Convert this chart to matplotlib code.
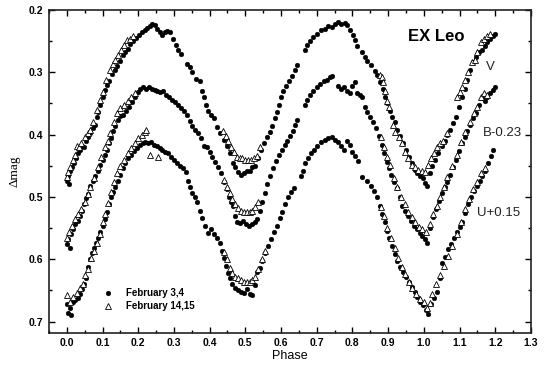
import numpy as np
import matplotlib
matplotlib.use("Agg")
import matplotlib.pyplot as plt
from matplotlib.ticker import MultipleLocator

plt.rcParams["font.family"] = ["Liberation Sans", "DejaVu Sans"]

# (phase, delta mag); B and U already shifted
v_feb3 = [
    (0.000, 0.474), (0.003, 0.466), (0.006, 0.480), (0.010, 0.458), (0.014, 0.452), (0.020, 0.446),
    (0.026, 0.437), (0.030, 0.430), (0.036, 0.424), (0.042, 0.418), (0.048, 0.420), (0.054, 0.410),
    (0.060, 0.404), (0.066, 0.398), (0.072, 0.390), (0.078, 0.384), (0.084, 0.372), (0.088, 0.364),
    (0.094, 0.352), (0.100, 0.340), (0.106, 0.328), (0.112, 0.320), (0.118, 0.314), (0.126, 0.303),
    (0.134, 0.296), (0.140, 0.290), (0.148, 0.282), (0.156, 0.273), (0.162, 0.268), (0.170, 0.262),
    (0.178, 0.255), (0.186, 0.250), (0.194, 0.245), (0.202, 0.240), (0.210, 0.236), (0.218, 0.232),
    (0.226, 0.229), (0.234, 0.225), (0.240, 0.222), (0.246, 0.224), (0.254, 0.230), (0.262, 0.236),
    (0.268, 0.240), (0.276, 0.236), (0.282, 0.233), (0.290, 0.236), (0.298, 0.247), (0.306, 0.256),
    (0.312, 0.264), (0.320, 0.270), (0.336, 0.286), (0.344, 0.292), (0.352, 0.300), (0.362, 0.310),
    (0.372, 0.314), (0.378, 0.330), (0.384, 0.340), (0.390, 0.352), (0.396, 0.362), (0.404, 0.368),
    (0.412, 0.374), (0.422, 0.388), (0.430, 0.398), (0.440, 0.408), (0.450, 0.418), (0.458, 0.430),
    (0.466, 0.446), (0.472, 0.452), (0.480, 0.460), (0.488, 0.464), (0.496, 0.462), (0.504, 0.458),
    (0.512, 0.458), (0.520, 0.452), (0.528, 0.450), (0.536, 0.438), (0.544, 0.424), (0.552, 0.414),
    (0.560, 0.404), (0.568, 0.396), (0.576, 0.386), (0.582, 0.374), (0.588, 0.364), (0.594, 0.352),
    (0.600, 0.340), (0.606, 0.330), (0.614, 0.322), (0.622, 0.314), (0.630, 0.306), (0.638, 0.296),
    (0.646, 0.288), (0.668, 0.264), (0.672, 0.256), (0.680, 0.250), (0.690, 0.244), (0.700, 0.238),
    (0.712, 0.232), (0.722, 0.230), (0.732, 0.226), (0.742, 0.228), (0.752, 0.222), (0.760, 0.220),
    (0.768, 0.222), (0.778, 0.221), (0.786, 0.224), (0.794, 0.232), (0.802, 0.240), (0.808, 0.248),
    (0.814, 0.258), (0.826, 0.268), (0.834, 0.276), (0.842, 0.282), (0.852, 0.288), (0.862, 0.298),
    (0.870, 0.304), (0.878, 0.316), (0.886, 0.326), (0.892, 0.340), (0.898, 0.350), (0.904, 0.362),
    (0.910, 0.372), (0.918, 0.380), (0.926, 0.392), (0.934, 0.402), (0.942, 0.414), (0.950, 0.424),
    (0.958, 0.436), (0.966, 0.446), (0.974, 0.456), (0.982, 0.462), (0.990, 0.466), (0.998, 0.470),
    (1.004, 0.478), (1.010, 0.482), (1.016, 0.462), (1.024, 0.450), (1.032, 0.440), (1.040, 0.430),
    (1.050, 0.418), (1.058, 0.410), (1.066, 0.400), (1.074, 0.392), (1.082, 0.382), (1.090, 0.372),
    (1.098, 0.356), (1.106, 0.340), (1.114, 0.326), (1.122, 0.312), (1.130, 0.296), (1.138, 0.284),
    (1.146, 0.276), (1.154, 0.268), (1.162, 0.264), (1.170, 0.258), (1.178, 0.252), (1.186, 0.246),
    (1.194, 0.242), (1.200, 0.238),
]
v_feb14 = [
    (0.000, 0.468), (0.004, 0.460), (0.010, 0.452), (0.016, 0.440), (0.022, 0.432), (0.028, 0.418),
    (0.034, 0.420), (0.040, 0.414), (0.050, 0.404), (0.058, 0.398), (0.064, 0.392), (0.074, 0.380),
    (0.084, 0.360), (0.092, 0.344), (0.100, 0.332), (0.110, 0.312), (0.120, 0.296), (0.128, 0.286),
    (0.136, 0.280), (0.144, 0.272), (0.152, 0.264), (0.160, 0.256), (0.168, 0.248), (0.176, 0.246),
    (0.184, 0.242),
    (0.438, 0.394), (0.446, 0.402), (0.452, 0.410), (0.460, 0.420), (0.468, 0.428), (0.476, 0.436),
    (0.484, 0.438), (0.492, 0.438), (0.500, 0.440), (0.508, 0.440), (0.516, 0.440), (0.524, 0.438),
    (0.532, 0.434), (0.542, 0.420),
    (0.876, 0.304), (0.882, 0.308), (0.886, 0.316), (0.892, 0.330), (0.898, 0.346), (0.902, 0.356),
    (0.914, 0.384), (0.920, 0.396), (0.930, 0.404), (0.940, 0.414), (0.948, 0.428), (0.956, 0.438),
    (0.966, 0.448), (0.976, 0.452), (0.984, 0.456), (0.994, 0.458), (1.002, 0.460), (1.012, 0.448),
    (1.020, 0.438), (1.028, 0.430), (1.036, 0.420), (1.046, 0.414), (1.054, 0.410), (1.064, 0.398),
    (1.092, 0.340), (1.100, 0.332), (1.108, 0.324), (1.116, 0.312), (1.124, 0.300), (1.134, 0.284),
    (1.142, 0.280), (1.150, 0.268), (1.160, 0.252), (1.168, 0.246), (1.176, 0.242), (1.186, 0.238),
]

b_feb3 = [
    (0.000, 0.576), (0.004, 0.568), (0.008, 0.582), (0.012, 0.560), (0.018, 0.552), (0.024, 0.544),
    (0.030, 0.538), (0.036, 0.530), (0.042, 0.522), (0.048, 0.512), (0.054, 0.502), (0.060, 0.496),
    (0.066, 0.482), (0.072, 0.474), (0.080, 0.466), (0.088, 0.458), (0.094, 0.448), (0.100, 0.440),
    (0.106, 0.432), (0.112, 0.424), (0.118, 0.414), (0.124, 0.406), (0.130, 0.394), (0.136, 0.386),
    (0.142, 0.376), (0.150, 0.370), (0.158, 0.368), (0.166, 0.362), (0.174, 0.356), (0.182, 0.348),
    (0.190, 0.340), (0.198, 0.332), (0.206, 0.326), (0.214, 0.324), (0.222, 0.326), (0.230, 0.324),
    (0.238, 0.326), (0.246, 0.328), (0.254, 0.330), (0.262, 0.332), (0.270, 0.330), (0.278, 0.336),
    (0.286, 0.340), (0.294, 0.344), (0.304, 0.348), (0.312, 0.352), (0.320, 0.358), (0.328, 0.362),
    (0.336, 0.368), (0.344, 0.378), (0.352, 0.386), (0.360, 0.392), (0.368, 0.398), (0.376, 0.406),
    (0.384, 0.418), (0.392, 0.420), (0.400, 0.428), (0.408, 0.436), (0.416, 0.444), (0.424, 0.452),
    (0.432, 0.462), (0.440, 0.476), (0.448, 0.488), (0.454, 0.500), (0.460, 0.508), (0.466, 0.514),
    (0.472, 0.530), (0.478, 0.540), (0.486, 0.542), (0.494, 0.538), (0.502, 0.544), (0.510, 0.546),
    (0.518, 0.544), (0.526, 0.540), (0.532, 0.536), (0.540, 0.522), (0.548, 0.508), (0.556, 0.494),
    (0.562, 0.480), (0.570, 0.466), (0.578, 0.454), (0.586, 0.442), (0.594, 0.432), (0.602, 0.424),
    (0.610, 0.416), (0.618, 0.410), (0.626, 0.402), (0.634, 0.394), (0.640, 0.384), (0.646, 0.376),
    (0.666, 0.352), (0.672, 0.344), (0.680, 0.336), (0.690, 0.330), (0.700, 0.324), (0.710, 0.318),
    (0.720, 0.314), (0.730, 0.312), (0.738, 0.308), (0.744, 0.306), (0.760, 0.322), (0.768, 0.326),
    (0.776, 0.324), (0.784, 0.330), (0.792, 0.334), (0.800, 0.322), (0.806, 0.316), (0.812, 0.334),
    (0.820, 0.336), (0.828, 0.340), (0.836, 0.356), (0.842, 0.364), (0.850, 0.372), (0.858, 0.380),
    (0.866, 0.390), (0.874, 0.402), (0.882, 0.416), (0.888, 0.430), (0.896, 0.444), (0.902, 0.454),
    (0.908, 0.464), (0.916, 0.476), (0.924, 0.486), (0.932, 0.500), (0.940, 0.514), (0.948, 0.522),
    (0.956, 0.530), (0.964, 0.538), (0.972, 0.546), (0.980, 0.552), (0.988, 0.558), (0.996, 0.562),
    (1.004, 0.568), (1.010, 0.574), (1.018, 0.550), (1.026, 0.532), (1.034, 0.520), (1.042, 0.506),
    (1.050, 0.494), (1.058, 0.484), (1.066, 0.476), (1.074, 0.464), (1.082, 0.452), (1.090, 0.440),
    (1.098, 0.426), (1.106, 0.414), (1.114, 0.404), (1.122, 0.394), (1.130, 0.384), (1.138, 0.374),
    (1.146, 0.366), (1.154, 0.352), (1.162, 0.342), (1.170, 0.346), (1.178, 0.340), (1.186, 0.334),
    (1.194, 0.328), (1.200, 0.324),
]
b_feb14 = [
    (0.000, 0.566), (0.006, 0.556), (0.014, 0.546), (0.022, 0.536), (0.030, 0.528), (0.040, 0.520),
    (0.050, 0.508), (0.058, 0.496), (0.066, 0.484), (0.076, 0.470), (0.086, 0.452), (0.096, 0.436),
    (0.106, 0.420), (0.114, 0.410), (0.122, 0.398), (0.132, 0.380), (0.140, 0.366), (0.150, 0.358),
    (0.160, 0.352), (0.170, 0.346), (0.180, 0.340), (0.190, 0.334),
    (0.440, 0.472), (0.448, 0.484), (0.456, 0.494), (0.464, 0.504), (0.472, 0.512), (0.480, 0.518),
    (0.488, 0.522), (0.496, 0.524), (0.504, 0.524), (0.512, 0.524), (0.520, 0.522), (0.528, 0.516),
    (0.536, 0.508),
    (0.880, 0.404), (0.888, 0.420), (0.896, 0.436), (0.904, 0.448), (0.916, 0.470), (0.926, 0.484),
    (0.936, 0.500), (0.946, 0.512), (0.956, 0.524), (0.966, 0.532), (0.976, 0.540), (0.986, 0.548),
    (0.996, 0.552), (1.006, 0.556), (1.016, 0.544), (1.026, 0.528), (1.036, 0.514), (1.046, 0.500),
    (1.056, 0.484), (1.066, 0.468), (1.080, 0.450), (1.092, 0.432), (1.104, 0.412), (1.116, 0.396),
    (1.128, 0.380), (1.140, 0.366), (1.150, 0.356), (1.160, 0.340), (1.168, 0.334), (1.176, 0.336),
]

u_feb3 = [
    (0.000, 0.672), (0.004, 0.686), (0.008, 0.678), (0.012, 0.690), (0.016, 0.668), (0.022, 0.666),
    (0.030, 0.662), (0.036, 0.656), (0.042, 0.648), (0.048, 0.640), (0.054, 0.630), (0.058, 0.612),
    (0.064, 0.600), (0.070, 0.590), (0.076, 0.582), (0.082, 0.574), (0.088, 0.566), (0.094, 0.556),
    (0.100, 0.546), (0.106, 0.536), (0.112, 0.524), (0.118, 0.512), (0.124, 0.500), (0.130, 0.492),
    (0.136, 0.484), (0.142, 0.474), (0.148, 0.464), (0.156, 0.454), (0.164, 0.446), (0.172, 0.438),
    (0.180, 0.432), (0.188, 0.426), (0.196, 0.422), (0.204, 0.416), (0.212, 0.414), (0.220, 0.412),
    (0.228, 0.414), (0.236, 0.412), (0.244, 0.416), (0.252, 0.418), (0.260, 0.422), (0.268, 0.424),
    (0.276, 0.428), (0.284, 0.430), (0.292, 0.436), (0.300, 0.440), (0.310, 0.446), (0.318, 0.450),
    (0.326, 0.454), (0.334, 0.460), (0.340, 0.474), (0.346, 0.484), (0.352, 0.494), (0.358, 0.500),
    (0.366, 0.508), (0.374, 0.522), (0.380, 0.534), (0.388, 0.546), (0.396, 0.558), (0.404, 0.552),
    (0.412, 0.560), (0.420, 0.566), (0.428, 0.574), (0.434, 0.586), (0.440, 0.598), (0.446, 0.610),
    (0.452, 0.622), (0.458, 0.630), (0.464, 0.640), (0.472, 0.646), (0.480, 0.650), (0.488, 0.652),
    (0.496, 0.654), (0.504, 0.648), (0.512, 0.656), (0.520, 0.658), (0.528, 0.642), (0.534, 0.620),
    (0.540, 0.614), (0.548, 0.602), (0.556, 0.590), (0.564, 0.578), (0.572, 0.568), (0.580, 0.556),
    (0.588, 0.546), (0.596, 0.534), (0.604, 0.524), (0.612, 0.512), (0.620, 0.500), (0.628, 0.492),
    (0.636, 0.486), (0.656, 0.466), (0.662, 0.458), (0.668, 0.446), (0.676, 0.438), (0.684, 0.430),
    (0.692, 0.424), (0.702, 0.418), (0.712, 0.412), (0.722, 0.408), (0.732, 0.406), (0.742, 0.404),
    (0.752, 0.408), (0.760, 0.412), (0.768, 0.418), (0.776, 0.424), (0.784, 0.410), (0.792, 0.416),
    (0.800, 0.428), (0.808, 0.434), (0.816, 0.442), (0.826, 0.468), (0.840, 0.474), (0.852, 0.482),
    (0.860, 0.490), (0.868, 0.500), (0.876, 0.514), (0.884, 0.528), (0.890, 0.540), (0.896, 0.554),
    (0.902, 0.566), (0.910, 0.578), (0.918, 0.592), (0.926, 0.602), (0.934, 0.612), (0.942, 0.620),
    (0.950, 0.628), (0.958, 0.636), (0.966, 0.644), (0.974, 0.652), (0.982, 0.660), (0.990, 0.668),
    (0.998, 0.674), (1.006, 0.682), (1.012, 0.688), (1.020, 0.672), (1.028, 0.662), (1.036, 0.652),
    (1.044, 0.630), (1.052, 0.606), (1.060, 0.596), (1.068, 0.584), (1.076, 0.576), (1.084, 0.566),
    (1.092, 0.556), (1.100, 0.548), (1.108, 0.540), (1.116, 0.526), (1.124, 0.512), (1.132, 0.500),
    (1.140, 0.490), (1.148, 0.482), (1.156, 0.474), (1.164, 0.466), (1.172, 0.458), (1.180, 0.446),
    (1.188, 0.434), (1.194, 0.424),
]
u_feb14 = [
    (0.000, 0.658), (0.008, 0.668), (0.018, 0.660), (0.028, 0.654), (0.036, 0.646), (0.044, 0.640),
    (0.052, 0.626), (0.060, 0.616), (0.068, 0.598), (0.076, 0.586), (0.084, 0.574), (0.092, 0.560),
    (0.100, 0.540), (0.108, 0.528), (0.116, 0.510), (0.124, 0.492), (0.132, 0.476), (0.140, 0.462),
    (0.150, 0.450), (0.160, 0.440), (0.170, 0.430), (0.180, 0.422), (0.190, 0.414), (0.200, 0.406),
    (0.210, 0.400), (0.218, 0.396), (0.222, 0.392), (0.232, 0.432), (0.256, 0.436),
    (0.440, 0.588), (0.448, 0.600), (0.456, 0.614), (0.464, 0.622), (0.472, 0.628), (0.480, 0.630),
    (0.488, 0.634), (0.496, 0.636), (0.504, 0.636), (0.512, 0.636), (0.520, 0.634), (0.528, 0.628),
    (0.536, 0.616), (0.546, 0.600), (0.556, 0.586),
    (0.880, 0.516), (0.888, 0.530), (0.898, 0.550), (0.908, 0.566), (0.918, 0.582), (0.928, 0.598),
    (0.938, 0.612), (0.948, 0.624), (0.958, 0.636), (0.968, 0.646), (0.978, 0.656), (0.990, 0.664),
    (1.000, 0.668), (1.008, 0.678), (1.016, 0.670), (1.024, 0.656), (1.034, 0.640), (1.044, 0.626),
    (1.056, 0.610), (1.068, 0.594), (1.080, 0.578), (1.092, 0.560), (1.104, 0.540), (1.116, 0.520),
    (1.126, 0.504), (1.138, 0.488), (1.150, 0.476), (1.160, 0.462), (1.170, 0.454),
]

band_labels = ["V", "B-0.23", "U+0.15"]

fig = plt.figure(figsize=(5.44, 3.69), dpi=100)
ax = fig.add_axes([0.090, 0.098, 0.886, 0.875])

dots = np.array(v_feb3 + b_feb3 + u_feb3)
tris = np.array(v_feb14 + b_feb14 + u_feb14)
ax.plot(dots[:, 0], dots[:, 1], "o", ms=3.4, color="black", mec="black",
        mew=0.3, label="February 3,4")
ax.plot(tris[:, 0], tris[:, 1], "^", ms=3.8, mfc="white", mec="black",
        mew=0.6, label="February 14,15")

ax.set_xlim(-0.05, 1.3)
ax.set_ylim(0.718, 0.2)
ax.xaxis.set_minor_locator(MultipleLocator(0.05))
ax.yaxis.set_minor_locator(MultipleLocator(0.05))
xt = np.arange(0, 1.31, 0.1)
yt = np.arange(0.2, 0.71, 0.1)
ax.set_xticks(xt)
ax.set_xticklabels([f"{t:.1f}" for t in xt], fontweight="bold")
ax.set_yticks(yt)
ax.set_yticklabels([f"{t:.1f}" for t in yt], fontweight="bold")
ax.tick_params(which="both", direction="in", top=True, right=True,
               labelsize=7.5, width=1.0, pad=4)
ax.tick_params(which="major", length=4)
ax.tick_params(which="minor", length=2.5)
for s in ax.spines.values():
    s.set_linewidth(1.2)
    s.set_color("#222222")

ax.set_xlabel("Phase", fontsize=9, labelpad=1)
ax.set_ylabel("Δmag", fontsize=9.5, family=["Liberation Serif", "DejaVu Serif"], labelpad=6)

ax.text(1.035, 0.242, "EX Leo", fontsize=12, fontweight="bold", ha="center", va="center")
ax.text(1.174, 0.291, band_labels[0], fontsize=9.5, ha="left", va="center", color="#222222")
ax.text(1.165, 0.397, band_labels[1], fontsize=9.5, ha="left", va="center", color="#222222")
ax.text(1.148, 0.525, band_labels[2], fontsize=9.5, ha="left", va="center", color="#222222")

ax.legend(loc="lower left", bbox_to_anchor=(0.085, 0.04), frameon=False,
          prop={"size": 7, "weight": "bold"}, handletextpad=0.8, labelspacing=0.3,
          markerscale=1.0)

fig.savefig("out.png", dpi=100)
